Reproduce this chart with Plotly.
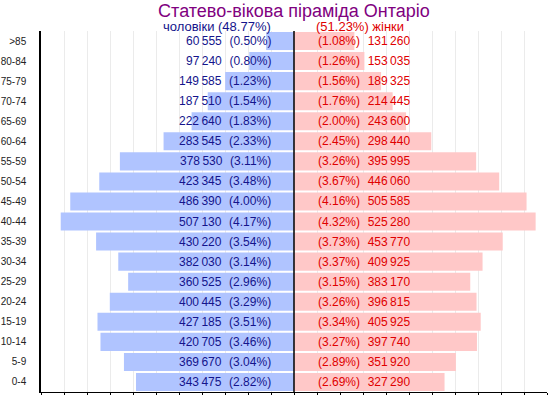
import plotly.graph_objects as go

ages = ["0-4", "5-9", "10-14", "15-19", "20-24", "25-29", "30-34", "35-39", "40-44",
        "45-49", "50-54", "55-59", "60-64", "65-69", "70-74", "75-79", "80-84", ">85"]
male = [343475, 369670, 420705, 427185, 400445, 360525, 382030, 430220, 507130,
        486390, 423345, 378530, 283545, 222640, 187510, 149585, 97240, 60555]
male_pct = [2.82, 3.04, 3.46, 3.51, 3.29, 2.96, 3.14, 3.54, 4.17,
            4.00, 3.48, 3.11, 2.33, 1.83, 1.54, 1.23, 0.80, 0.50]
female = [327290, 351920, 397740, 405925, 396815, 383170, 409925, 453770, 525280,
          505585, 446060, 395995, 298440, 243600, 214445, 189325, 153035, 131260]
female_pct = [2.69, 2.89, 3.27, 3.34, 3.26, 3.15, 3.37, 3.73, 4.32,
              4.16, 3.67, 3.26, 2.45, 2.00, 1.76, 1.56, 1.26, 1.08]
title = "Статево-вікова піраміда Онтаріо"
male_label = "чоловіки (48.77%)"
female_label = "(51.23%) жінки"

MALE_BAR = "#b0c4ff"
FEMALE_BAR = "#ffc8c8"
MALE_TXT = "#14148c"
FEMALE_TXT = "#e00000"
FONT = "Liberation Sans, Arial, sans-serif"
GAP = "\u00a0\u00a0\u200a"


def fmt(n):
    return f"{n:,}".replace(",", "\u2009")


fig = go.Figure()
fig.add_trace(go.Bar(y=ages, x=[-v for v in male], orientation="h",
                     marker=dict(color=MALE_BAR, line=dict(width=0)),
                     hoverinfo="skip"))
fig.add_trace(go.Bar(y=ages, x=female, orientation="h",
                     marker=dict(color=FEMALE_BAR, line=dict(width=0)),
                     hoverinfo="skip"))

ann = []
for a, v, p in zip(ages, male, male_pct):
    ann.append(dict(x=0, y=a, xref="x", yref="y", xanchor="right", xshift=-21,
                    text=f"{fmt(v)}{GAP}({p:.2f}%)", showarrow=False,
                    font=dict(size=12, color=MALE_TXT, family=FONT)))
for a, v, p in zip(ages, female, female_pct):
    ann.append(dict(x=0, y=a, xref="x", yref="y", xanchor="left", xshift=22,
                    text=f"({p:.2f}%){GAP}{fmt(v)}", showarrow=False,
                    font=dict(size=12, color=FEMALE_TXT, family=FONT)))
ann.append(dict(x=0, y=1, xref="x", yref="paper", xanchor="right", yanchor="middle",
                xshift=-21, yshift=5, text=male_label, showarrow=False,
                font=dict(size=13, color=MALE_TXT, family=FONT)))
ann.append(dict(x=0, y=1, xref="x", yref="paper", xanchor="left", yanchor="middle",
                xshift=20, yshift=5, text=female_label, showarrow=False,
                font=dict(size=13, color=FEMALE_TXT, family=FONT)))

fig.update_layout(
    width=550, height=395,
    margin=dict(l=41, r=3, t=31, b=3, autoexpand=False),
    barmode="relative", bargap=0.1,
    showlegend=False,
    plot_bgcolor="white", paper_bgcolor="white",
    title=dict(text=title, x=0.5, xref="paper", xanchor="center",
               y=1 - 10.5 / 395, yref="container", yanchor="middle",
               font=dict(size=18, color="#800080", family=FONT)),
    annotations=ann,
    xaxis=dict(range=[-550000, 550000], dtick=50000, tick0=0, automargin=False,
               showticklabels=False, ticks="outside", ticklen=3, tickcolor="black",
               showline=True, linecolor="black", linewidth=1,
               showgrid=True, gridcolor="#ebebeb", gridwidth=1,
               zeroline=False, fixedrange=True),
    yaxis=dict(categoryorder="array", categoryarray=ages, showline=True,
               automargin=False,
               linecolor="black", linewidth=1.5, ticks="", showgrid=False,
               ticklabelstandoff=11,
               tickfont=dict(size=10, color="#222", family=FONT), fixedrange=True),
    shapes=[dict(type="line", xref="x", yref="paper", x0=0, x1=0, y0=0, y1=1,
                 line=dict(color="black", width=1.5), layer="above")],
)

fig.write_html("out.html", config={"displayModeBar": False},
               post_script="document.body.style.margin='0';document.body.style.overflow='hidden';")
